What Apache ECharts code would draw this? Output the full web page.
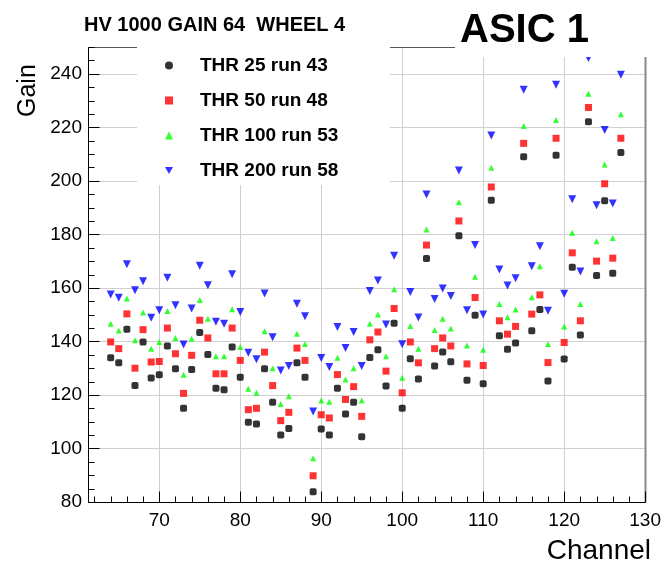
<!DOCTYPE html>
<html>
<head>
<meta charset="utf-8">
<script src="https://cdn.jsdelivr.net/npm/echarts@6/dist/echarts.min.js"></script>
<style>html,body{margin:0;padding:0;background:#fff}#c{width:664px;height:568px}</style>
</head>
<body>
<div id="c"></div>
<script>
const channels = [64,65,66,67,68,69,70,71,72,73,74,75,76,77,78,79,80,81,82,83,84,85,86,87,88,89,90,91,92,93,94,95,96,97,98,99,100,101,102,103,104,105,106,107,108,109,110,111,112,113,114,115,116,117,118,119,120,121,122,123,124,125,126,127];
const thr25 = [133.9,132,144.5,123.5,139.8,126.3,127.5,138.3,129.8,115,129.5,143.3,135.1,122.5,121.9,137.9,126.6,109.8,109.1,129.8,117.3,105,107.5,132,126.6,83.8,107.3,105,122.5,112.9,117.3,104.4,134,136.9,123.3,146.8,115,133.5,126,171,130.8,136,132.4,179.5,125.5,149.8,124.2,192.7,142.1,137.1,139.4,209,144,151.9,125.2,209.6,133.4,167.7,142.4,222.1,164.6,192.6,165.5,210.6];
const thr50 = [139.8,137.3,150.3,130,144.4,132.3,132.5,145,135.4,120.6,134.8,147.9,141.3,127.9,127.9,145,132.9,114.5,115,136,123.5,110.4,113.5,137.5,132.9,89.8,112.6,111.4,127.6,118.3,123.1,112,140.6,143.5,128.9,152.3,120.8,139.8,132,176,137.3,141.3,138.3,185,131.6,156.4,131,197.7,147.7,142.7,145.6,214,150.2,157.4,132.1,215.9,139.6,173.1,147.7,227.4,170,198.9,171.1,215.9];
const thr100 = [146.6,144.1,156,140.4,150.8,137.3,139.8,151.4,141.3,127.5,141,155.5,148.5,134.5,134.5,152,137.9,122.3,120.8,143.8,130,116.6,119.5,142.9,139,96.3,117.9,117.5,133.9,125.8,130,117.9,146.6,150.1,134.5,159.5,126.4,145.8,137.3,181.8,144.3,148.5,144.8,192,138.5,164.2,136.9,204.9,154,149,151.9,220.5,156.5,168.1,139,222.7,145.6,180.6,154,232.5,177.4,206.1,178.6,224.9];
const thr200 = [157.5,156.3,168.8,159.1,162.5,148.8,151.6,163.8,153.5,138.8,152.3,168.3,161,147.3,146.6,165.1,151,135.8,133.3,157.9,141.6,129.1,130.8,154.1,149.4,113.8,133.8,130.4,145.4,137.5,143.5,130.8,158.8,162.8,146.3,172,138.9,158.5,148.9,194.9,155.8,159.8,157,203.9,151.6,176,150.1,216.9,166.9,160.9,163.6,234,168.1,175.6,151.5,235.9,157.8,193.1,166.1,245.9,190.9,219,191.5,239.6];
const seriesNames = ['THR 25 run 43','THR 50 run 48','THR 100 run 53','THR 200 run 58'];
const xMajorTicks = [70,80,90,100,110,120,130];
const xMinorTicks = [62,64,66,68,72,74,76,78,82,84,86,88,92,94,96,98,102,104,106,108,112,114,116,118,122,124,126,128];
const yMajorTicks = [80,100,120,140,160,180,200,220,240];
const yMinorTicks = [85,90,95,105,110,115,125,130,135,145,150,155,165,170,175,185,190,195,205,210,215,225,230,235,245,250];

const FONT = 'Liberation Sans, Arial, Helvetica, sans-serif';
const X_MIN = 61.2, X_MAX = 130, Y_MIN = 80, Y_MAX = 250, Y_STEP = 20;
function pairs(vals){ return channels.map((c,i)=>[c, vals[i]]); }

// Frame and inside ticks, positioned through the chart's own axis scales
function renderFrame(params, api){
  if (params.dataIndex !== 0) return null;
  const px = v => Math.round(v) + 0.5;
  const P = (x, y) => api.coord([x, y]);
  const ln = (x1,y1,x2,y2,color,w) => ({type:'line', shape:{x1:x1,y1:y1,x2:x2,y2:y2}, style:{stroke:color, lineWidth:w}});
  const bl = P(X_MIN, Y_MIN), tr = P(X_MAX, Y_MAX);
  const L = px(bl[0]), B = px(bl[1]), R = px(tr[0]), T = px(tr[1]);
  const ch = [];
  ch.push(ln(L, T, R, T, '#555', 1));
  ch.push(ln(R, T, R, B, '#8a8a8a', 2));
  ch.push(ln(L, B, R, B, '#000', 1));
  ch.push(ln(L, T, L, B, '#000', 1));
  xMajorTicks.forEach(v => { const x = px(P(v, Y_MIN)[0]); ch.push(ln(x, B, x, B - 11, '#000', 1)); });
  xMinorTicks.forEach(v => { const x = px(P(v, Y_MIN)[0]); ch.push(ln(x, B, x, B - 6, '#000', 1)); });
  yMajorTicks.forEach(v => { const y = px(P(X_MIN, v)[1]); ch.push(ln(L, y, L + 11, y, '#000', 1)); });
  yMinorTicks.forEach(v => { const y = px(P(X_MIN, v)[1]); ch.push(ln(L, y, L + 6, y, '#000', 1)); });
  return {type:'group', children:ch};
}

const chart = echarts.init(document.getElementById('c'));
chart.setOption({
  animation:false,
  title:[
    {text:'HV 1000 GAIN 64  WHEEL 4', left:79, top:10, textStyle:{fontFamily:FONT, fontWeight:'bold', fontSize:20, color:'#000'}},
    {text:'ASIC 1', left:455, top:6, textStyle:{fontFamily:FONT, fontWeight:'bold', fontSize:40, color:'#000'}}
  ],
  grid:{left:88, right:16.5, top:47, bottom:66},
  legend:{
    orient:'vertical', left:160, top:51, itemGap:16, itemWidth:8, itemHeight:8,
    textStyle:{fontFamily:FONT, fontWeight:'bold', fontSize:19, color:'#000', padding:[0,0,0,22]},
    data:[{name:seriesNames[0], icon:'circle'},{name:seriesNames[1], icon:'rect'},{name:seriesNames[2], icon:'triangle'},{name:seriesNames[3], icon:'path://M0,0 L10,0 L5,9 Z'}]
  },
  xAxis:{
    type:'value', min:X_MIN, max:X_MAX,
    axisLine:{show:false}, axisTick:{show:false},
    splitLine:{show:true, lineStyle:{color:'#cfcfcf', width:1}},
    axisLabel:{showMinLabel:false, fontFamily:FONT, fontSize:19, color:'#000', margin:9}
  },
  yAxis:{
    type:'value', min:Y_MIN, max:Y_MAX, interval:Y_STEP,
    axisLine:{show:false}, axisTick:{show:false},
    splitLine:{show:true, lineStyle:{color:'#cfcfcf', width:1}},
    axisLabel:{showMaxLabel:false, fontFamily:FONT, fontSize:19, color:'#000', margin:6}
  },
  graphic:[
    {type:'rect', z:3, shape:{x:137, y:36, width:253, height:149}, style:{fill:'#fff'}},
    {type:'rect', z:3, shape:{x:455, y:0, width:209, height:57}, style:{fill:'#fff'}},
    {type:'text', z:5, x:41, y:117, rotation:Math.PI/2, style:{text:'Gain', fill:'#000', font:'25px Liberation Sans, Arial, sans-serif', textAlign:'left', textVerticalAlign:'bottom'}},
    {type:'text', z:5, x:651, y:551, style:{text:'Channel', fill:'#000', font:'28px Liberation Sans, Arial, sans-serif', textAlign:'right', textVerticalAlign:'middle'}}
  ],
  series:[
    {name:'frame', type:'custom', silent:true, clip:false, z:1, renderItem:renderFrame, data:[[X_MIN, Y_MIN]], tooltip:{show:false}},
    {name:seriesNames[0], type:'scatter', symbol:'roundRect', symbolSize:7, itemStyle:{color:'#000'}, data:pairs(thr25)},
    {name:seriesNames[1], type:'scatter', symbol:'rect', symbolSize:7, itemStyle:{color:'#ff0000'}, data:pairs(thr50)},
    {name:seriesNames[2], type:'scatter', symbol:'triangle', symbolSize:6, itemStyle:{color:'#00ff00'}, data:pairs(thr100)},
    {name:seriesNames[3], type:'scatter', symbol:'triangle', symbolRotate:180, symbolSize:8, itemStyle:{color:'#0000ff'}, data:pairs(thr200)}
  ]
});
</script>
</body>
</html>
